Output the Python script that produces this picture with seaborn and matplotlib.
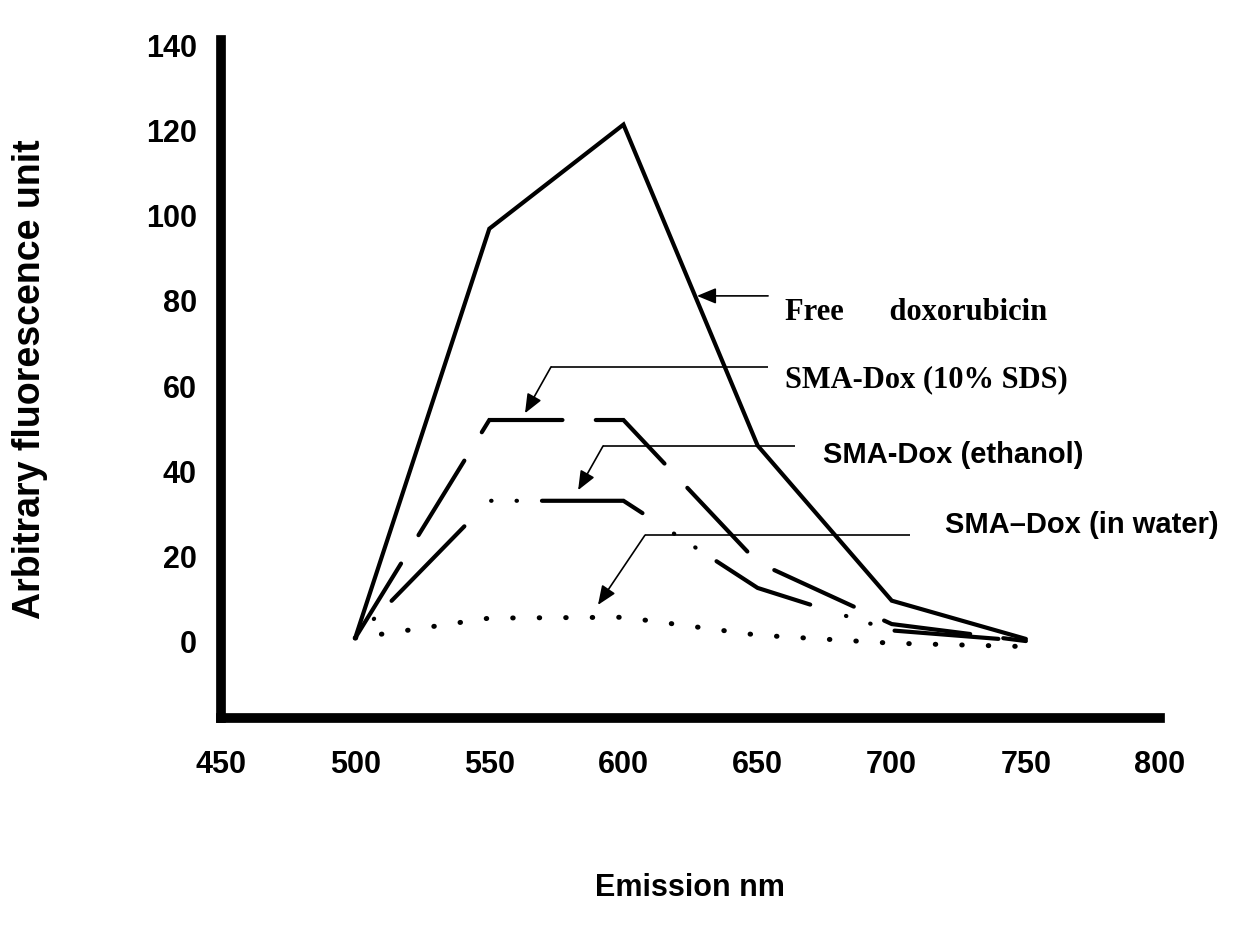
import matplotlib
matplotlib.use("Agg")
import matplotlib.pyplot as plt
import seaborn as sns
import pandas as pd

# Emission spectra (arbitrary fluorescence units)
emission_nm = [500, 550, 600, 650, 700, 750]
free_dox = [0.7, 97, 121.5, 46, 9.5, 0.5]
sma_dox_sds = [0.7, 52, 52, 18.5, 4, 0]
sma_dox_ethanol = [0.7, 33, 33, 12.5, 2.5, 0]
sma_dox_water = [0.7, 5.4, 5.6, 1.4, -0.5, -1.3]

series_names = ["Free doxorubicin", "SMA-Dox (10% SDS)",
                "SMA-Dox (ethanol)", "SMA\u2013Dox (in water)"]
series_values = [free_dox, sma_dox_sds, sma_dox_ethanol, sma_dox_water]

x_ticks = [450, 500, 550, 600, 650, 700, 750, 800]
y_ticks = [0, 20, 40, 60, 80, 100, 120, 140]

rows = []
for name, vals in zip(series_names, series_values):
    for x, y in zip(emission_nm, vals):
        rows.append({"Emission": x, "Fluorescence": y, "Sample": name})
df = pd.DataFrame(rows)

sns.set_theme(style="white")
plt.rcParams["font.family"] = ["Liberation Sans", "DejaVu Sans"]
plt.rcParams.update({
    "text.color": "black",
    "axes.labelcolor": "black",
    "xtick.color": "black",
    "ytick.color": "black",
    "xtick.labelcolor": "black",
    "ytick.labelcolor": "black",
})

fig = plt.figure(figsize=(12.46, 9.52), dpi=100)
ax = fig.add_axes([0.1774, 0.2458, 0.7536, 0.7122])

dash_styles = {
    series_names[0]: "",
    series_names[1]: (21, 8),
    series_names[2]: (25, 9, 0.1, 6, 0.1, 6),
    series_names[3]: (0.1, 6.2),
}
sns.lineplot(data=df, x="Emission", y="Fluorescence", hue="Sample",
             style="Sample", dashes=dash_styles,
             palette=["black"] * 4, linewidth=3, legend=False, ax=ax,
             sort=False)
for ln in ax.lines:
    ln.set_dash_capstyle("round")
    ln.set_solid_capstyle("round")
    ln.set_solid_joinstyle("miter")
    ln.set_dash_joinstyle("miter")
    ln.set_clip_on(False)
# long dash / dot / dot pattern, phased so the plateau dash spans 600 nm
ax.lines[2].set_linestyle((33.7, (25, 9, 0.1, 6, 0.1, 6)))
# slightly heavier dots for the water series
ax.lines[3].set_linewidth(3.6)
ax.lines[3].set_linestyle((0, (0.1, 5.2)))

ax.set_xlim(450, 800)
ax.set_ylim(-18.1, 141.4)
ax.set_xticks(x_ticks)
ax.set_yticks(y_ticks)
ax.tick_params(axis="both", which="major", direction="out", color="black",
               labelcolor="black", width=1, labelsize=22)
ax.tick_params(axis="x", length=7, pad=16)
ax.tick_params(axis="y", length=6.5, pad=11)
for lab in ax.get_xticklabels() + ax.get_yticklabels():
    lab.set_fontweight("bold")

for side in ["top", "right"]:
    ax.spines[side].set_visible(False)
for side in ["left", "bottom"]:
    ax.spines[side].set_linewidth(7)
    ax.spines[side].set_color("black")
    ax.spines[side].set_capstyle("projecting")

ax.set_xlabel("Emission nm", fontsize=22, fontweight="bold", color="black")
ax.set_ylabel("Arbitrary fluorescence unit", fontsize=27, fontweight="bold",
              color="black")
ax.xaxis.set_label_coords(0.4995, -0.25)
ax.xaxis.label.set_va("center")
ax.yaxis.set_label_coords(-0.203, 0.5)
ax.yaxis.label.set_va("center")

# Leader lines with arrowheads pointing at each curve
arrow_kw = dict(arrowstyle="-|>,head_length=0.58,head_width=0.24",
                mutation_scale=20, color="black", lw=1.2,
                shrinkA=0, shrinkB=0)
# (horizontal start x, elbow x, level y, tip x, tip y)
leaders = [
    (653.9, 627.4, 81.2, 627.4, 81.2),
    (653.9, 573.0, 64.5, 563.3, 53.6),
    (663.9, 592.4, 45.9, 583.1, 35.5),
    (706.8, 608.0, 24.9, 590.5, 8.5),
]
for x0, xe, yl, xt, yt in leaders:
    if (xe, yl) != (xt, yt):
        ax.plot([x0, xe], [yl, yl], color="black", lw=1.2,
                solid_capstyle="butt", clip_on=False)
        ax.annotate("", xy=(xt, yt), xytext=(xe, yl), arrowprops=arrow_kw,
                    annotation_clip=False)
    else:
        ax.annotate("", xy=(xt, yt), xytext=(x0, yl), arrowprops=arrow_kw,
                    annotation_clip=False)

serif = ["Liberation Serif", "DejaVu Serif"]
ax.text(660.2, 77.2, "Free      doxorubicin", fontsize=22, fontweight="bold",
        family=serif, va="center", ha="left", color="black", clip_on=False)
ax.text(660.2, 61.4, "SMA-Dox (10% SDS)", fontsize=22, fontweight="bold",
        family=serif, va="center", ha="left", color="black", clip_on=False)
ax.text(674.4, 43.8, "SMA-Dox (ethanol)", fontsize=21, fontweight="bold",
        va="center", ha="left", color="black", clip_on=False)
ax.text(719.8, 27.3, "SMA\u2013Dox (in water)", fontsize=21, fontweight="bold",
        va="center", ha="left", color="black", clip_on=False)

fig.savefig("out.png", dpi=100, facecolor="white")
